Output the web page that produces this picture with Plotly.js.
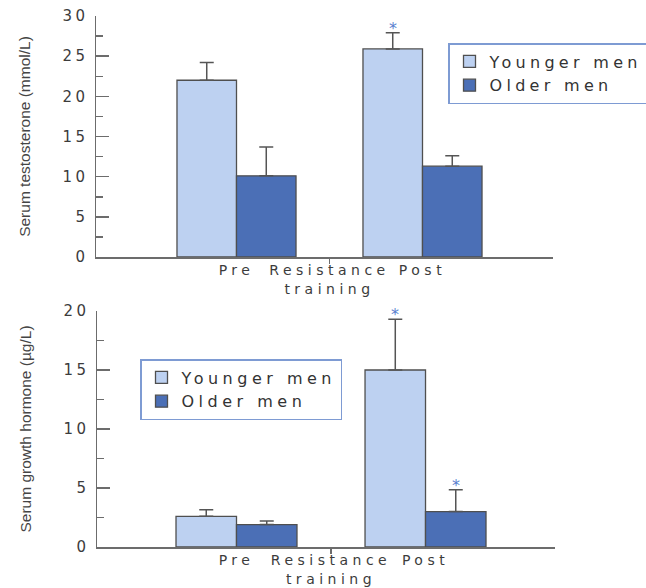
<!DOCTYPE html>
<html>
<head>
<meta charset="utf-8">
<script src="https://cdn.plot.ly/plotly-3.0.1.min.js"></script>
<style>
  html, body { margin: 0; padding: 0; background: #ffffff; }
  #chart { width: 646px; height: 588px; }
  /* wide, extended lettering for tick labels and legend entries */
  svg text { letter-spacing: 4.5px; }
  svg .ytick text, svg .y2tick text { letter-spacing: 3.5px; }
  svg text.legendtext { letter-spacing: 4.3px; }
  svg text.ytitle, svg text.y2title, svg text.annotation-text { letter-spacing: 0; }
</style>
</head>
<body>
<div id="chart"></div>
<script>
// Training phases and the two subject groups
const phases = ['Pre', 'Post'];
const groups = ['Younger men', 'Older men'];

// Serum testosterone (mmol/L): means and upper SE
const testosteroneYounger = [22.0, 25.9];
const testosteroneYoungerErr = [2.2, 2.0];
const testosteroneOlder = [10.1, 11.3];
const testosteroneOlderErr = [3.6, 1.3];
const testosteroneSigYounger = [false, true];
const testosteroneSigOlder = [false, false];

// Serum growth hormone (µg/L): means and upper SE
const ghYounger = [2.6, 15.0];
const ghYoungerErr = [0.55, 4.3];
const ghOlder = [1.9, 3.0];
const ghOlderErr = [0.3, 1.85];
const ghSigYounger = [false, true];
const ghSigOlder = [false, true];

// Category axis labels
const xTickVals = [1, 1.5, 2];
const xTickText = ['Pre', 'Resistance<br>training', 'Post'];

const LIGHT = '#bdd1f1';
const DARK = '#4b6fb6';
const OUTLINE = '#4f4f4f';
const AXIS = '#6c6c6c';
const STAR = '#5a7fcf';
const BARGAP = 0.36;

const xs = phases.map((_, i) => i + 1);

function barTrace(name, y, err, color, xa, ya, legend) {
  return {
    type: 'bar', name: name, x: xs, y: y, xaxis: xa, yaxis: ya, legend: legend,
    marker: { color: color, line: { color: OUTLINE, width: 1.3 } },
    error_y: {
      type: 'data', symmetric: false, array: err, arrayminus: err.map(() => 0),
      color: '#555555', thickness: 1.5, width: 7
    },
    hoverinfo: 'skip'
  };
}

// significance stars sit just above the error-bar caps
function starNotes(vals, errs, sig, side, xa, ya) {
  const offset = side * (1 - BARGAP) / 4;
  return vals.map((_, i) => i).filter(i => sig[i]).map(i => ({
    xref: xa, yref: ya,
    x: xs[i] + offset, y: vals[i] + errs[i],
    text: '*', showarrow: false,
    xanchor: 'center', yanchor: 'bottom', yshift: -7,
    font: { family: 'DejaVu Sans', size: 16, color: STAR }
  }));
}

const data = [
  barTrace(groups[0], testosteroneYounger, testosteroneYoungerErr, LIGHT, 'x', 'y', 'legend'),
  barTrace(groups[1], testosteroneOlder, testosteroneOlderErr, DARK, 'x', 'y', 'legend'),
  barTrace(groups[0], ghYounger, ghYoungerErr, LIGHT, 'x2', 'y2', 'legend2'),
  barTrace(groups[1], ghOlder, ghOlderErr, DARK, 'x2', 'y2', 'legend2')
];

const annotations = [].concat(
  starNotes(testosteroneYounger, testosteroneYoungerErr, testosteroneSigYounger, -1, 'x', 'y'),
  starNotes(testosteroneOlder, testosteroneOlderErr, testosteroneSigOlder, 1, 'x', 'y'),
  starNotes(ghYounger, ghYoungerErr, ghSigYounger, -1, 'x2', 'y2'),
  starNotes(ghOlder, ghOlderErr, ghSigOlder, 1, 'x2', 'y2')
);

const W = 646, H = 588;
const xTickFont = { family: 'DejaVu Sans, Verdana, sans-serif', size: 14, color: '#3c3c3c' };
const yTickFont = { family: 'DejaVu Sans, Verdana, sans-serif', size: 15, color: '#3c3c3c' };
const titleFont = { family: 'Liberation Sans, Arial, sans-serif', size: 15.5, color: '#454545' };

function xAxis(left, right, r0, r1, anchor) {
  return {
    domain: [left / W, right / W], range: [r0, r1], anchor: anchor,
    showline: true, linecolor: AXIS, linewidth: 1.5, zeroline: false, showgrid: false,
    tickmode: 'array', tickvals: xTickVals, ticktext: xTickText, ticks: '',
    tickfont: xTickFont,
    minor: { tickmode: 'array', tickvals: [1.5], ticks: 'outside', ticklen: 5, tickwidth: 1.5, tickcolor: AXIS },
    fixedrange: true
  };
}

function yAxis(bottom, top, maxVal, title, anchor) {
  return {
    domain: [1 - bottom / H, 1 - top / H], range: [0, maxVal], anchor: anchor,
    showline: true, linecolor: AXIS, linewidth: 1.5, zeroline: false, showgrid: false,
    tickmode: 'linear', tick0: 0, dtick: 5,
    ticks: 'inside', ticklen: 13, tickwidth: 1.5, tickcolor: AXIS,
    minor: { dtick: 2.5, ticks: 'inside', ticklen: 7, tickwidth: 1.5, tickcolor: AXIS },
    tickfont: yTickFont, ticklabelstandoff: 3,
    title: { text: title, font: titleFont, standoff: 28 },
    fixedrange: true
  };
}

const legendFont = { family: 'DejaVu Sans, Verdana, sans-serif', size: 16, color: '#333333' };

const layout = {
  width: W, height: H,
  margin: { l: 0, r: 0, t: 0, b: 0, autoexpand: false },
  paper_bgcolor: '#ffffff', plot_bgcolor: '#ffffff',
  barmode: 'group', bargap: BARGAP, bargroupgap: 0,
  showlegend: true,
  xaxis: xAxis(96, 553, 0.2446, 2.7016, 'y'),
  yaxis: yAxis(257, 16, 30, 'Serum testosterone (mmol/L)', 'x'),
  xaxis2: xAxis(97, 555, 0.262, 2.685, 'y2'),
  yaxis2: yAxis(547, 311, 20, 'Serum growth hormone (µg/L)', 'x2'),
  annotations: annotations,
  legend: {
    x: 448 / W, y: 1 - 43 / H, xanchor: 'left', yanchor: 'top',
    bgcolor: '#ffffff', bordercolor: '#7e9bd3', borderwidth: 1.5,
    font: legendFont, traceorder: 'normal', tracegroupgap: 0
  },
  legend2: {
    x: 140 / W, y: 1 - 359 / H, xanchor: 'left', yanchor: 'top',
    bgcolor: '#ffffff', bordercolor: '#7e9bd3', borderwidth: 1.5,
    font: legendFont, traceorder: 'normal', tracegroupgap: 0
  }
};

Plotly.newPlot('chart', data, layout, { staticPlot: true, displayModeBar: false });
</script>
</body>
</html>
